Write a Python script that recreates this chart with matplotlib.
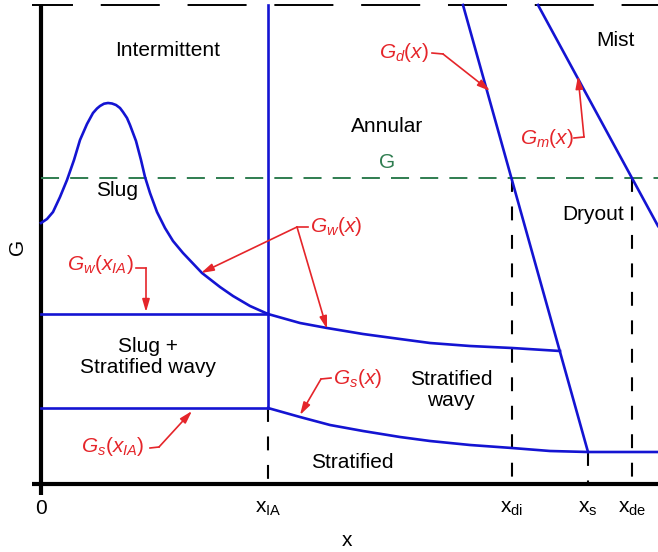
import matplotlib
matplotlib.use("Agg")
import matplotlib.pyplot as plt

plt.rcParams["font.family"] = ["Liberation Sans", "DejaVu Sans"]
plt.rcParams["mathtext.fontset"] = "custom"
plt.rcParams["mathtext.rm"] = "Liberation Sans"
plt.rcParams["mathtext.it"] = "Liberation Sans:italic"
plt.rcParams["lines.scale_dashes"] = False

# ---- flow-pattern map (schematic units) ----
x_IA, x_di, x_s, x_de = 227, 471, 547, 591
G_level = 306
G_top = 479
Gw_IA = 170
Gs_IA = 76

# G_w(x) for x <= x_IA (slug / intermittent boundary with hump)
gw_left_x = [0, 6, 12, 19, 26, 33, 39, 46, 52, 56, 59, 63, 67, 71, 75, 79, 82, 86, 89,
             95, 100, 104, 109, 116, 124, 132, 142, 161, 179, 192, 209, 227]
gw_left_G = [261, 265, 272, 287, 304, 324, 344, 360, 371, 375.5, 378, 380.3, 381, 380.5,
             379, 376, 372, 366, 359, 343, 324, 307, 291, 272, 256, 243, 231, 211, 197,
             188, 178, 170]

# G_w(x) for x >= x_IA, up to the G_d(x) line
gw_right_x = [227, 259, 286, 322, 359, 389, 429, 471, 519]
gw_right_G = [170, 161, 156, 150, 145, 141, 138, 136, 133]

# G_s(x) for x >= x_IA
gs_x = [227, 259, 289, 322, 359, 389, 429, 471, 509, 547, 579, 617]
gs_G = [76, 67, 59, 53, 47, 43, 39, 36, 33, 32, 32, 32]

# dryout inception / completion lines
gd_x = [422, 547]
gd_G = [479, 32]
gm_x = [497, 617]
gm_G = [479, 258]

tick_pos = [0, x_IA, x_di, x_s, x_de]
tick_lab = ["0", r"x$_{\mathrm{IA}}$", r"x$_{\mathrm{di}}$", r"x$_{\mathrm{s}}$", r"x$_{\mathrm{de}}$"]

BLUE = "#1414d2"
RED = "#e5252a"
GREEN = "#2f7d50"

fig = plt.figure(figsize=(6.58, 5.52), dpi=100)
ax = fig.add_axes([0, 0, 1, 1])
ax.set_xlim(-41, 617)
ax.set_ylim(-68, 484)
ax.axis("off")

# axes
ax.plot([-9, 617], [0, 0], color="black", lw=3.0, solid_capstyle="butt")
ax.plot([0, 0], [-11, G_top], color="black", lw=3.0, solid_capstyle="butt")
ax.plot([-9, 617], [G_top, G_top], color="black", lw=1.4,
        linestyle=(13, (42.5, 20)))

# mass flux level G
ax.plot([0, 617], [G_level, G_level], color=GREEN, lw=1.4, linestyle=(0, (13, 8)))

# vertical dashed guides
dash_v = (0, (10, 10.5))
ax.plot([x_IA, x_IA], [Gs_IA, 0], color="black", lw=1.5, linestyle=dash_v)
ax.plot([x_di, x_di], [G_level, 0], color="black", lw=1.5, linestyle=dash_v)
ax.plot([x_de, x_de], [G_level, 0], color="black", lw=1.5, linestyle=dash_v)
ax.plot([x_s, x_s], [gs_G[9], 0], color="black", lw=1.5, linestyle=dash_v)

# transition boundaries
lw_b = 1.9
ax.plot(gw_left_x, gw_left_G, color=BLUE, lw=lw_b, solid_joinstyle="round")
ax.plot(gw_right_x, gw_right_G, color=BLUE, lw=lw_b)
ax.plot(gs_x, gs_G, color=BLUE, lw=lw_b)
ax.plot([0, x_IA], [Gw_IA, Gw_IA], color=BLUE, lw=lw_b)
ax.plot([0, x_IA], [Gs_IA, Gs_IA], color=BLUE, lw=lw_b)
ax.plot([x_IA, x_IA], [Gs_IA, G_top], color=BLUE, lw=lw_b)
ax.plot(gd_x, gd_G, color=BLUE, lw=lw_b)
ax.plot(gm_x, gm_G, color=BLUE, lw=lw_b, clip_on=True)

# regime names
fs = 15
ax.text(127, 434, "Intermittent", fontsize=fs, ha="center", va="center")
ax.text(76, 294, "Slug", fontsize=fs, ha="center", va="center")
ax.text(346, 357, "Annular", fontsize=fs, ha="center", va="center")
ax.text(346, 322, "G", fontsize=fs, ha="center", va="center", color=GREEN)
ax.text(574, 444, "Mist", fontsize=fs, ha="center", va="center")
ax.text(552, 269, "Dryout", fontsize=fs, ha="center", va="center")
ax.text(107, 127, "Slug +\nStratified wavy", fontsize=fs, ha="center", va="center",
        linespacing=1.15)
ax.text(410, 94, "Stratified\nwavy", fontsize=fs, ha="center", va="center",
        linespacing=1.15)
ax.text(311, 22, "Stratified", fontsize=fs, ha="center", va="center")

# axis tick labels and titles
for p, lab in zip(tick_pos, tick_lab):
    ax.text(p, -25, lab, fontsize=15, ha="center", va="center")
ax.text(306, -56, "x", fontsize=15, ha="center", va="center")
ax.text(-23, 237, "G", fontsize=15, ha="center", va="center", rotation=90)

# red callouts
def px(xp, yp):
    return xp - 41, 484 - yp

arrow_kw = dict(arrowstyle="-|>,head_length=0.75,head_width=0.22",
                color=RED, lw=1.2, shrinkA=0, shrinkB=0, mutation_scale=10)

def callout(points, tip):
    xs = [px(*p)[0] for p in points]
    ys = [px(*p)[1] for p in points]
    ax.plot(xs, ys, color=RED, lw=1.2)
    ax.annotate("", xy=px(*tip), xytext=(xs[-1], ys[-1]), arrowprops=arrow_kw)

ax.text(*px(404, 52), r"$G_d(x)$", fontsize=fs, color=RED, ha="center", va="center")
callout([(432, 53), (443, 54)], (490, 91))

ax.text(*px(547, 138), r"$G_m(x)$", fontsize=fs, color=RED, ha="center", va="center")
callout([(574, 138), (584, 137)], (578, 76))

ax.text(*px(336, 226), r"$G_w(x)$", fontsize=fs, color=RED, ha="center", va="center")
callout([(308, 227), (297, 227)], (201, 273))
ax.annotate("", xy=px(327, 329), xytext=px(297, 227), arrowprops=arrow_kw)

ax.text(*px(100, 264), r"$G_w(x_{IA})$", fontsize=fs, color=RED, ha="center", va="center")
callout([(136, 268), (146, 268)], (146, 312))

ax.text(*px(358, 379), r"$G_s(x)$", fontsize=fs, color=RED, ha="center", va="center")
callout([(331, 378), (321, 379)], (300, 415))

ax.text(*px(113, 446), r"$G_s(x_{IA})$", fontsize=fs, color=RED, ha="center", va="center")
callout([(150, 448), (159, 447)], (192, 411))

fig.savefig("out.png", dpi=100)
